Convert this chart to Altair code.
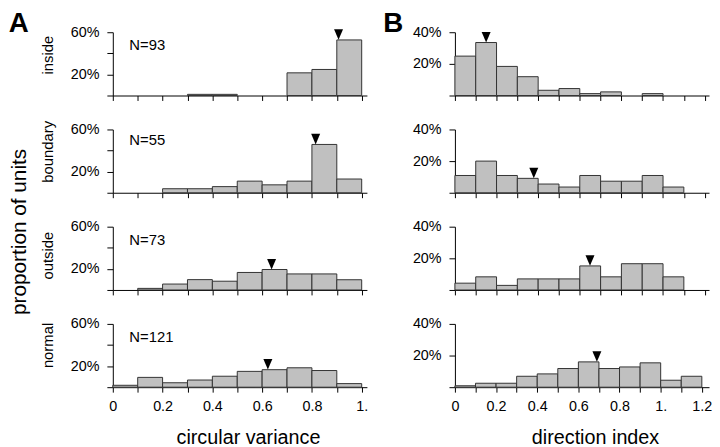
import altair as alt
import pandas as pd

FONT = "Liberation Sans"

# ---------------- data ----------------
row_names = ["inside", "boundary", "outside", "normal"]
n_units = [93, 55, 73, 121]

# circular variance histograms (bin edges, % of units)
cv_lo = [0.0, 0.1, 0.2, 0.3, 0.4, 0.5, 0.6, 0.7, 0.8, 0.9]
cv_hi = [0.1, 0.2, 0.3, 0.4, 0.5, 0.6, 0.7, 0.8, 0.9, 1.0]
cv_inside = [0, 0, 0, 1.1, 1.1, 0, 0, 21.5, 24.7, 52.7]
cv_boundary = [0, 0, 3.8, 3.8, 5.8, 11.0, 7.5, 11.0, 45.8, 13.0]
cv_outside = [0, 1.5, 5.6, 9.8, 8.3, 16.6, 19.4, 15.2, 15.2, 9.7]
cv_normal = [1.8, 9.3, 4.2, 6.8, 10.4, 15.0, 16.6, 18.4, 15.8, 3.4]
cv_mean = [0.907, 0.815, 0.638, 0.623]

# direction index histograms
di_lo = [0.0, 0.1, 0.2, 0.3, 0.4, 0.5, 0.6, 0.7, 0.8, 0.9, 1.0, 1.1]
di_hi = [0.1, 0.2, 0.3, 0.4, 0.5, 0.6, 0.7, 0.8, 0.9, 1.0, 1.1, 1.2]
di_inside = [24.9, 33.5, 18.4, 11.9, 3.3, 4.4, 1.2, 2.3, 0, 1.2, 0, 0]
di_boundary = [10.9, 20.0, 10.9, 9.1, 5.5, 3.6, 10.9, 7.3, 7.3, 10.9, 3.6, 0]
di_outside = [4.3, 8.3, 2.9, 7.0, 7.0, 7.0, 15.2, 8.3, 16.6, 16.6, 8.3, 0]
di_normal = [0.9, 2.5, 2.5, 6.9, 8.4, 11.8, 16.0, 11.8, 12.8, 15.4, 4.4, 6.9]
di_mean = [0.15, 0.379, 0.649, 0.69]

cv_ticks = [0, 0.1, 0.2, 0.3, 0.4, 0.5, 0.6, 0.7, 0.8, 0.9, 1.0]
di_ticks = [0, 0.1, 0.2, 0.3, 0.4, 0.5, 0.6, 0.7, 0.8, 0.9, 1.0, 1.1, 1.2]
cv_yticks = [0, 20, 40, 60]
cv_ylabels = [20, 60]
di_yticks = [0, 20, 40]
di_ylabels = [20, 40]

# ---------------- layout ----------------
W, H = 257, 64
TRI = "M-0.85,-1L0.85,-1L0,1Z"
XLAB = ("round(datum.value*10) % 2 == 1 ? '' : datum.value == 0 ? '0' : "
        "datum.value == 1 ? '1.' : format(datum.value, '.1f')")


def panel(lo, hi, pct, mean, ymax, yticks, ylabs, xmax, xticks, bottom,
          xtitle=None, xtitle_x=0, row=None, row_y=0, n=None, n_y=18, extras=()):
    bars = pd.DataFrame({"lo": lo, "hi": hi, "pct": pct})
    bars = bars[bars["pct"] > 0]
    idx = min(int(mean * 10), len(pct) - 1)
    mk = pd.DataFrame({"m": [mean], "top": [pct[idx]]})

    xs = alt.Scale(domain=[0, xmax], nice=False, zero=False)
    ys = alt.Scale(domain=[0, ymax], nice=False)

    xkw = dict(values=xticks, tickSize=5, labels=bottom, labelExpr=XLAB,
               labelPadding=8, labelOverlap=False, labelFlush=False, grid=False)
    if bottom:
        xkw.update(title=xtitle, titleFontSize=20, titleFontWeight="normal",
                   titleX=xtitle_x, titleY=57, titleAlign="center",
                   titleBaseline="alphabetic")
    else:
        xkw.update(title=None)
    xaxis = alt.Axis(**xkw)

    ylab_expr = " || ".join(f"datum.value == {v}" for v in ylabs)
    ykw = dict(values=yticks, tickSize=6, labelPadding=8, grid=False,
               labelExpr=f"({ylab_expr}) ? datum.value + '%' : ''",
               labelOverlap=False, labelBaseline="middle")
    if row:
        ykw.update(title=row, titleFontSize=15, titleFontWeight="normal",
                   titleAngle=270, titleX=-61, titleY=row_y, titleAlign="center",
                   titleBaseline="alphabetic")
    else:
        ykw.update(title=None)
    yaxis = alt.Axis(**ykw)

    layer_bars = alt.Chart(bars).mark_rect(
        fill="#c0c0c0", stroke="#333333", strokeWidth=1
    ).encode(
        x=alt.X("lo:Q", scale=xs, axis=xaxis),
        x2="hi:Q",
        y=alt.Y("pct:Q", scale=ys, axis=yaxis),
        y2=alt.datum(0),
    )
    layer_mk = alt.Chart(mk).mark_point(
        shape=TRI, size=114, filled=True, color="black", opacity=1, yOffset=-5.4
    ).encode(
        x=alt.X("m:Q", scale=xs, axis=xaxis),
        y=alt.Y("top:Q", scale=ys, axis=yaxis),
    )
    layers = [layer_bars, layer_mk]
    if n is not None:
        layers.append(
            alt.Chart(pd.DataFrame({"t": [f"N={n}"]})).mark_text(
                align="left", baseline="alphabetic", font=FONT, fontSize=15, color="black"
            ).encode(x=alt.value(16.7), y=alt.value(n_y), text="t:N")
        )
    for (txt, x, y, kw) in extras:
        layers.append(
            alt.Chart(pd.DataFrame({"t": [txt]})).mark_text(
                font=FONT, color="black", **kw
            ).encode(x=alt.value(x), y=alt.value(y), text="t:N")
        )
    return alt.layer(*layers).properties(width=W, height=H)


cv_all = [cv_inside, cv_boundary, cv_outside, cv_normal]
di_all = [di_inside, di_boundary, di_outside, di_normal]
row_title_y = [22.7, 22, 28.8, 21.3]
n_label_y = [18.3, 16, 18.3, 18.3]
di_xmax = [1.221, 1.221, 1.221, 1.235]

panels = []
for i in range(4):
    bottom = i == 3
    extras_l = []
    extras_r = []
    if i == 0:
        extras_l.append(("A", -105.3, 0, dict(fontSize=28, fontWeight="bold",
                                              align="left", baseline="alphabetic")))
        extras_r.append(("B", -72.6, 0, dict(fontSize=28, fontWeight="bold",
                                             align="left", baseline="alphabetic")))
    if i == 2:
        extras_l.append(("proportion of units", -88, 5.3,
                         dict(fontSize=21, angle=270, align="center",
                              baseline="alphabetic")))
    panels.append(panel(cv_lo, cv_hi, cv_all[i], cv_mean[i], 60, cv_yticks, cv_ylabels,
                        1.021, cv_ticks, bottom, xtitle="circular variance",
                        xtitle_x=136.7, row=row_names[i], row_y=row_title_y[i],
                        n=n_units[i], n_y=n_label_y[i], extras=extras_l))
    panels.append(panel(di_lo, di_hi, di_all[i], di_mean[i], 40, di_yticks, di_ylabels,
                        di_xmax[i], di_ticks, bottom, xtitle="direction index",
                        xtitle_x=141.7, extras=extras_r))

chart = alt.concat(
    *panels, columns=2, spacing={"row": 34.33, "column": 89}, bounds="flush"
).properties(padding=0).configure_view(stroke=None).configure_axis(
    domainColor="black", tickColor="black", labelColor="black",
    labelFont=FONT, labelFontSize=14.5, titleFont=FONT, titleColor="black",
    domainWidth=1, tickWidth=1
)

chart.save("out.html", embed_options={"renderer": "svg", "actions": False})
